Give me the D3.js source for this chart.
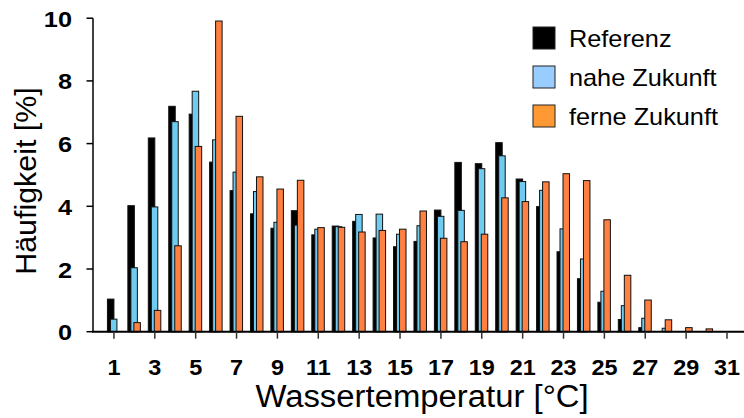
<!DOCTYPE html>
<html><head><meta charset="utf-8">
<script src="https://cdn.jsdelivr.net/npm/d3@7"></script>
<style>body{margin:0;background:#fff}svg{display:block;font-family:"Liberation Sans",Arial,sans-serif}</style>
</head><body>
<svg id="c" width="744" height="418"></svg>
<script>
const categories = d3.range(1, 32);
const referenz = [1.04,4.02,6.18,7.19,6.94,5.41,4.50,3.76,3.30,3.86,3.09,3.37,3.52,2.99,2.71,2.88,3.88,5.40,5.36,6.03,4.87,3.99,2.55,1.69,0.94,0.39,0.13,0,0,0,0];
const naheZukunft = [0.40,2.04,3.98,6.70,7.67,6.12,5.09,4.47,3.49,3.40,3.27,3.35,3.74,3.75,3.11,3.38,3.68,3.87,5.20,5.61,4.79,4.51,3.28,2.32,1.29,0.83,0.43,0.11,0,0,0];
const ferneZukunft = [0,0.29,0.68,2.74,5.91,9.91,6.87,4.94,4.55,4.83,3.32,3.33,3.18,3.23,3.27,3.85,2.98,2.87,3.11,4.27,4.15,4.78,5.04,4.82,3.57,1.80,1.01,0.38,0.13,0.09,0];
const seriesNames = ["Referenz","nahe Zukunft","ferne Zukunft"];
const xTickLabels = [1,3,5,7,9,11,13,15,17,19,21,23,25,27,29,31];
const yTickLabels = [0,2,4,6,8,10];

const barFill = ["#000000","#6fcbef","#ff8040"];
const legendFill = ["#000000","#99ccff","#ff9933"];
const offsets = [-6.5,-3.5,-0.5];
const bw = 6.5;

const svg = d3.select("#c");
const x = d3.scaleLinear().domain([0,31]).range([93.5,727]);
const y = d3.scaleLinear().domain([0,10]).range([331.7,18.2]);

const series = [referenz, naheZukunft, ferneZukunft];
series.forEach((vals, si) => {
  svg.append("g").selectAll("rect")
    .data(categories.map((c,i)=>({c, v: vals[i]})).filter(d=>d.v>0))
    .join("rect")
    .attr("x", d => x(d.c) + offsets[si])
    .attr("y", d => y(d.v))
    .attr("width", bw)
    .attr("height", d => y(0) - y(d.v))
    .attr("fill", barFill[si])
    .attr("stroke", "#111")
    .attr("stroke-width", 1);
});

// y axis
svg.append("line").attr("x1",93).attr("x2",93).attr("y1",y(10)).attr("y2",y(0)).attr("stroke","#000").attr("stroke-width",1.5);
svg.append("g").selectAll("line").data(yTickLabels).join("line")
  .attr("x1",86.5).attr("x2",93).attr("y1",d=>y(d)).attr("y2",d=>y(d)).attr("stroke","#000").attr("stroke-width",1.5);
svg.append("g").selectAll("text").data(yTickLabels).join("text")
  .attr("transform",d=>`translate(72,${y(d)+8.5}) scale(1.15,1)`).attr("text-anchor","end")
  .attr("font-size",22).attr("font-weight","bold").text(d=>d);

// x axis
svg.append("line").attr("x1",92).attr("x2",744).attr("y1",y(0)).attr("y2",y(0)).attr("stroke","#000").attr("stroke-width",2);
svg.append("g").selectAll("line").data(xTickLabels).join("line")
  .attr("x1",d=>x(d)).attr("x2",d=>x(d)).attr("y1",y(0)).attr("y2",y(0)+7).attr("stroke","#333").attr("stroke-width",1.5);
svg.append("g").selectAll("text").data(xTickLabels).join("text")
  .attr("transform",d=>`translate(${x(d)},375) scale(1.04,1)`).attr("text-anchor","middle")
  .attr("font-size",22.5).attr("font-weight","bold").text(d=>d);

// titles
svg.append("text").attr("transform","translate(422,407) scale(1.06,1)").attr("text-anchor","middle").attr("font-size",31).text("Wassertemperatur [°C]");
svg.append("text").attr("transform","translate(36,181) rotate(-90)").attr("text-anchor","middle").attr("font-size",30.4).text("Häufigkeit [%]");

// legend
const lg = svg.append("g").selectAll("g").data(seriesNames).join("g")
  .attr("transform",(d,i)=>`translate(533,${27+i*39})`);
lg.append("rect").attr("width",22).attr("height",22).attr("fill",(d,i)=>legendFill[i]).attr("stroke","#222").attr("stroke-width",1);
lg.append("text").attr("transform","translate(36,19.5) scale(1.1,1)").attr("font-size",23).text(d=>d);
</script>
</body></html>
